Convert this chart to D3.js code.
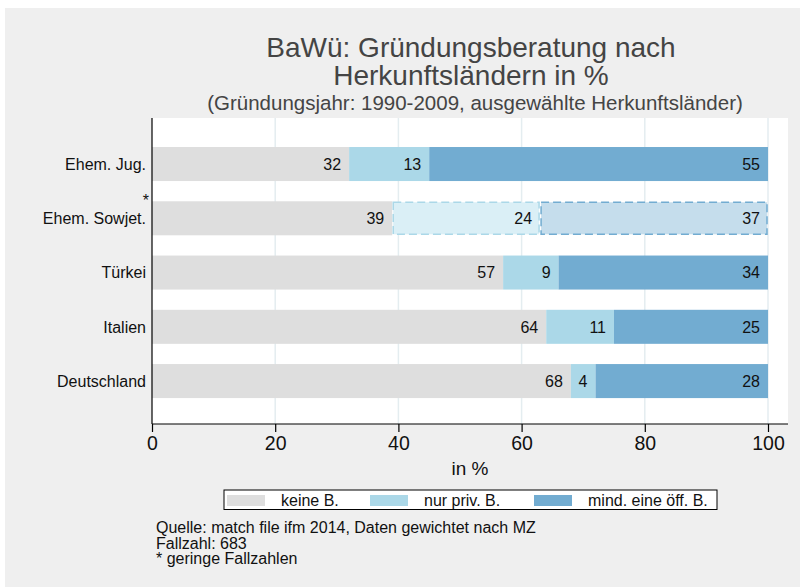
<!DOCTYPE html>
<html>
<head>
<meta charset="utf-8">
<script src="https://cdn.jsdelivr.net/npm/d3@7"></script>
<style>
  body { margin: 0; background: #ffffff; }
  text { font-family: "Liberation Sans", Arial, sans-serif; }
</style>
</head>
<body>
<svg id="chart" width="800" height="587"></svg>
<script>
// data
const categories = ["Ehem. Jug.", "Ehem. Sowjet.", "Türkei", "Italien", "Deutschland"];
const keine = [32, 39, 57, 64, 68];
const nurPriv = [13, 24, 9, 11, 4];
const mindOeff = [55, 37, 34, 25, 28];
const seriesNames = ["keine B.", "nur priv. B.", "mind. eine öff. B."];
const lowCount = ["Ehem. Sowjet."];
const xTicks = [0, 20, 40, 60, 80, 100];
const notes = ["Quelle: match file ifm 2014, Daten gewichtet nach MZ", "Fallzahl: 683", "* geringe Fallzahlen"];

const svg = d3.select("#chart");
const colors = ["#dedede", "#abd8e8", "#72acd1"];
const fadedFill = ["#dedede", "#daeff6", "#c5ddec"];

svg.append("rect").attr("x", 5).attr("y", 8).attr("width", 795).attr("height", 579).attr("fill", "#efefef");

const plot = { left: 152, right: 788, top: 118, bottom: 424 };
svg.append("rect")
  .attr("x", plot.left).attr("y", plot.top)
  .attr("width", plot.right - plot.left).attr("height", plot.bottom - plot.top)
  .attr("fill", "#ffffff");

const x = d3.scaleLinear().domain([0, 100]).range([152, 768]);
const y = d3.scaleBand().domain(categories).range([136.9, 408.2]).paddingInner(0.373).paddingOuter(0.1865);

// gridlines
svg.append("g").selectAll("line")
  .data(xTicks.filter(d => d > 0))
  .join("line")
  .attr("x1", d => x(d)).attr("x2", d => x(d))
  .attr("y1", plot.top).attr("y2", plot.bottom)
  .attr("stroke", "#e4edf0").attr("stroke-width", 1.5);

// stacked bars
const rows = categories.map((c, i) => ({ cat: c, vals: [keine[i], nurPriv[i], mindOeff[i]] }));
rows.forEach(r => {
  let start = 0;
  const faded = lowCount.includes(r.cat);
  r.vals.forEach((v, k) => {
    const x0 = x(start), x1 = x(start + v);
    const rect = svg.append("rect")
      .attr("x", x0).attr("y", y(r.cat))
      .attr("width", x1 - x0).attr("height", y.bandwidth());
    if (faded && k > 0) {
      rect.attr("x", x0 + 1).attr("y", y(r.cat) + 1)
        .attr("width", x1 - x0 - 2).attr("height", y.bandwidth() - 2)
        .attr("fill", fadedFill[k]).attr("stroke", colors[k])
        .attr("stroke-width", 1.5).attr("stroke-dasharray", "8,4");
    } else {
      rect.attr("fill", colors[k]);
    }
    svg.append("text")
      .attr("x", x1 - 8).attr("y", y(r.cat) + y.bandwidth() / 2)
      .attr("dy", "0.36em").attr("text-anchor", "end")
      .attr("font-size", 16).attr("fill", "#111")
      .text(v);
    start += v;
  });
});

// axes
const xAxis = svg.append("g").attr("transform", `translate(0,${plot.bottom})`)
  .call(d3.axisBottom(x).tickValues(xTicks).tickSize(8).tickPadding(4).tickSizeOuter(0));
xAxis.select(".domain").attr("d", `M${plot.left},0H${plot.right}`).attr("stroke", "#000").attr("stroke-width", 1.2);
xAxis.selectAll(".tick line").attr("stroke", "#000").attr("stroke-width", 1.2);
xAxis.selectAll("text").attr("font-size", 19.5).attr("fill", "#111").attr("font-family", "Liberation Sans, Arial, sans-serif");

svg.append("line")
  .attr("x1", plot.left).attr("x2", plot.left)
  .attr("y1", plot.top).attr("y2", plot.bottom)
  .attr("stroke", "#000").attr("stroke-width", 1.2);

svg.append("g").selectAll("text")
  .data(categories)
  .join("text")
  .attr("x", 146).attr("y", d => y(d) + y.bandwidth() / 2)
  .attr("dy", "0.36em").attr("text-anchor", "end")
  .attr("font-size", 16).attr("fill", "#111")
  .text(d => d);

svg.append("g").selectAll("text")
  .data(lowCount)
  .join("text")
  .attr("x", 149).attr("y", d => y(d) + 5)
  .attr("text-anchor", "end")
  .attr("font-size", 16).attr("fill", "#111")
  .text("*");

svg.append("text").attr("x", 470).attr("y", 475).attr("text-anchor", "middle")
  .attr("font-size", 19).attr("fill", "#111").text("in %");

// titles
svg.append("text").attr("x", 471).attr("y", 57).attr("text-anchor", "middle")
  .attr("font-size", 28).attr("fill", "#444").text("BaWü: Gründungsberatung nach");
svg.append("text").attr("x", 471).attr("y", 85).attr("text-anchor", "middle")
  .attr("font-size", 28).attr("fill", "#444").text("Herkunftsländern in %");
svg.append("text").attr("x", 475).attr("y", 110).attr("text-anchor", "middle")
  .attr("font-size", 20.5).attr("fill", "#444").text("(Gründungsjahr: 1990-2009, ausgewählte Herkunftsländer)");

// legend
const legend = svg.append("g");
legend.append("rect").attr("x", 224).attr("y", 490).attr("width", 493).attr("height", 19.5)
  .attr("fill", "#ffffff").attr("stroke", "#000").attr("stroke-width", 1);
const legX = [227, 370, 534];
seriesNames.forEach((n, k) => {
  legend.append("rect").attr("x", legX[k]).attr("y", 495).attr("width", 38).attr("height", 11).attr("fill", colors[k]);
  legend.append("text").attr("x", legX[k] + 54).attr("y", 500).attr("dy", "0.36em")
    .attr("font-size", 16).attr("fill", "#111").text(n);
});

// notes
svg.append("g").selectAll("text")
  .data(notes)
  .join("text")
  .attr("x", 156).attr("y", (d, i) => 533 + i * 15.5)
  .attr("font-size", 16).attr("fill", "#111")
  .text(d => d);
</script>
</body>
</html>
